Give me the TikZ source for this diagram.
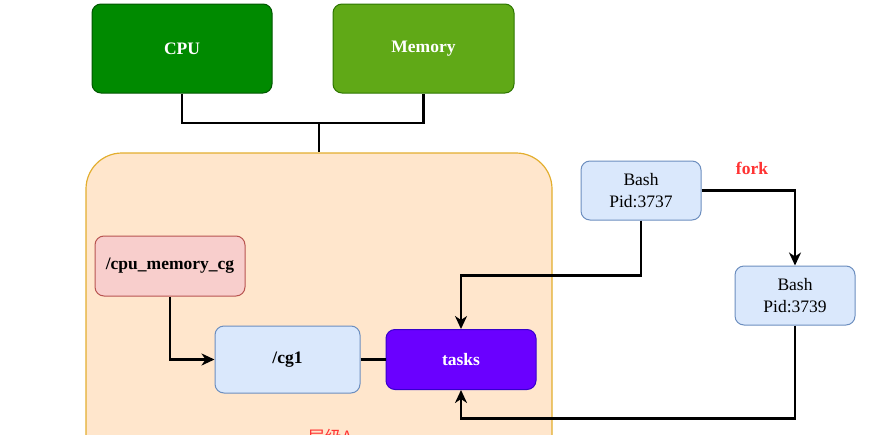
\documentclass[tikz,border=0pt]{standalone}
\usepackage{fontspec}
\setmainfont{Liberation Serif}
\newfontfamily\cjk{Noto Sans CJK SC}
\usetikzlibrary{arrows.meta}
\definecolor{cpufill}{HTML}{008A00}
\definecolor{cpuline}{HTML}{005700}
\definecolor{memfill}{HTML}{60A917}
\definecolor{memline}{HTML}{2D7600}
\definecolor{grpfill}{HTML}{FFE6CC}
\definecolor{grpline}{HTML}{E3AE2E}
\definecolor{redfill}{HTML}{F8CECC}
\definecolor{redline}{HTML}{B85450}
\definecolor{bluefill}{HTML}{DAE8FC}
\definecolor{blueline}{HTML}{6C8EBF}
\definecolor{taskfill}{HTML}{6A00FF}
\definecolor{taskline}{HTML}{3700CC}
\definecolor{forkred}{HTML}{FF3333}
\tikzset{
  box/.style={draw, line width=1pt, rounded corners=9pt, inner sep=0pt, align=center,
    font=\fontsize{17.5}{22}\selectfont},
  greenbox/.style={box, fill=cpufill, draw=cpuline, text=white, font=\fontsize{17.5}{22}\selectfont\bfseries},
  limebox/.style={box, fill=memfill, draw=memline, text=white, font=\fontsize{17.5}{22}\selectfont\bfseries},
  redbox/.style={box, fill=redfill, draw=redline, font=\fontsize{17.5}{22}\selectfont\bfseries},
  bluebox/.style={box, fill=bluefill, draw=blueline},
  taskbox/.style={box, fill=taskfill, draw=taskline, text=white, font=\fontsize{17.5}{22}\selectfont\bfseries},
  group/.style={draw=grpline, fill=grpfill, line width=1.2pt, rounded corners=36pt, inner sep=0pt},
  conn/.style={line width=2.8pt, draw=black},
  arr/.style={conn, -{Stealth[length=13pt,width=12pt,inset=4pt]}},
}
\begin{document}
\begin{tikzpicture}[x=1pt,y=-1pt]
\useasboundingbox (0,0) rectangle (870,434);
\clip (0,0) rectangle (870,434);
\node[group, minimum width=466pt, minimum height=317pt] (grp) at (319,311.5) {};
\node[anchor=north, text=forkred, font=\cjk\fontsize{17}{20}\selectfont] (lvl) at (330,426) {层级A};
\node[greenbox, minimum width=180pt, minimum height=89pt] (cpu) at (182,48.5) {CPU};
\node[limebox, minimum width=181pt, minimum height=89pt] (mem) at (423.5,48.5) {Memory};
\coordinate (join) at (319,123);
\node[redbox, minimum width=150pt, minimum height=60pt] (cmc) at (170,266) {/cpu\_memory\_cg};
\node[bluebox, minimum width=145pt, minimum height=67pt, font=\fontsize{17.5}{22}\selectfont\bfseries] (cg1) at (287.5,359.5) {/cg1};
\node[taskbox, minimum width=150pt, minimum height=60pt] (tasks) at (461,359.5) {tasks};
\node[bluebox, minimum width=120pt, minimum height=59pt] (b1) at (641,190.5) {Bash\\Pid:3737};
\node[bluebox, minimum width=120pt, minimum height=59pt] (b2) at (795,295.5) {Bash\\Pid:3739};
\node[text=forkred, font=\fontsize{17.5}{22}\selectfont\bfseries] (fork) at (752,168) {fork};

\draw[conn] (cpu.south) |- (join) -| (mem.south);
\draw[conn] (join) -- (grp.north);
\draw[arr] (cmc.south) |- (cg1.west);
\draw[conn] (cg1.east) -- (tasks.west);
\draw[arr] (b1.south) -- ++(0,55) -| (tasks.north);
\draw[arr] (b1.east) -| (b2.north);
\draw[arr] (b2.south) -- ++(0,93) -| (tasks.south);
\end{tikzpicture}
\end{document}
